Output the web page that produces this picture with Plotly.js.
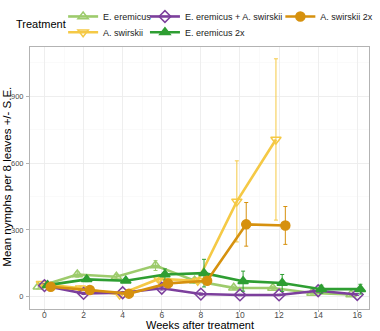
<!DOCTYPE html>
<html>
<head>
<meta charset="utf-8">
<script src="https://cdn.plot.ly/plotly-3.0.1.min.js"></script>
<style>html,body{margin:0;padding:0;background:#fff;}#chart{width:380px;height:331px;}</style>
</head>
<body>
<div id="chart"></div>
<script>
// ---- data ----
const weeks = [0, 2, 4, 6, 8, 10, 12, 14, 16];
const weeksShort = [0, 2, 4, 6, 8, 10, 12];

const eEremicusMean = [45, 100, 90, 140, 72, 40, 39, 17, 10];
const eEremicusSE   = [10, 12, 10, 22, 12, 8, 8, 5, 4];

const aSwirskiiMean = [58, 38, 10, 80, 72, 428, 706];
const aSwirskiiSE   = [10, 10, 8, 15, 12, 182, 362];

const eaMean = [50, 15, 18, 38, 12, 8, 8, 27, 10];
const eaSE   = [8, 5, 5, 8, 5, 3, 3, 6, 4];

const eEremicus2xMean = [52, 78, 72, 100, 106, 70, 62, 34, 34];
const eEremicus2xSE   = [10, 10, 8, 25, 62, 45, 38, 18, 22];

const aSwirskii2xMean = [45, 30, 14, 60, 72, 325, 320];
const aSwirskii2xSE   = [8, 6, 5, 12, 12, 98, 85];

const xTicks = [0, 2, 4, 6, 8, 10, 12, 14, 16];
const yTicks = [0, 300, 600, 900];

const names = ["E. eremicus", "A. swirskii", "E. eremicus + A. swirskii", "E. eremicus 2x", "A. swirskii 2x"];
const xTitle = "Weeks after treatment";
const yTitle = "Mean nymphs per 8 leaves +/- S.E.";
const legendTitle = "Treatment";

// ---- styling ----
const colors = ["#9DCB6C", "#F5C945", "#7C3F9C", "#2E9E32", "#D6910E"];
const symbols = ["triangle-up-open", "triangle-down-open", "diamond-open", "triangle-up", "circle"];
const dodge = [-0.32, -0.16, 0, 0.16, 0.32];
const legendIds = ["legend", "legend4", "legend2", "legend5", "legend3"];

const xs = [weeks, weeksShort, weeks, weeks, weeksShort];
const ys = [eEremicusMean, aSwirskiiMean, eaMean, eEremicus2xMean, aSwirskii2xMean];
const es = [eEremicusSE, aSwirskiiSE, eaSE, eEremicus2xSE, aSwirskii2xSE];

const traces = names.map((n, i) => ({
  type: "scatter",
  mode: "lines+markers",
  name: n,
  legend: legendIds[i],
  x: xs[i].map(w => w + dodge[i]),
  y: ys[i],
  error_y: {type: "data", array: es[i], visible: true, color: colors[i], thickness: 1, width: 2},
  line: {color: colors[i], width: 2.6},
  marker: {symbol: symbols[i], size: 9, color: colors[i], line: {color: colors[i], width: 1.5}},
  cliponaxis: false
}));

const L = 30, R = 2, T = 43, B = 22, W = 380, H = 331;
const pw = W - L - R, ph = H - T - B;
const px2x = p => (p - L) / pw;
const py2y = p => 1 + (T - p) / ph;

function leg(xpx, ypx) {
  return {x: px2x(xpx), y: py2y(ypx), xref: "paper", yref: "paper", xanchor: "left", yanchor: "middle",
          orientation: "h", font: {size: 9, color: "#1a1a1a", family: "Liberation Sans, Arial, sans-serif"},
          bgcolor: "rgba(0,0,0,0)", borderwidth: 0, itemwidth: 30, itemclick: false, itemdoubleclick: false};
}

const gridMajor = "#EBEBEB", gridMinor = "#F5F5F5";

const layout = {
  width: W, height: H,
  margin: {l: L, r: R, t: T, b: B, pad: 0},
  paper_bgcolor: "#fff", plot_bgcolor: "#fff",
  font: {family: "Liberation Sans, Arial, sans-serif", color: "#000"},
  showlegend: true,
  legend: leg(64, 12),
  legend2: leg(148, 12),
  legend3: leg(287, 12),
  legend4: leg(64, 28),
  legend5: leg(148, 28),
  annotations: [
    {text: legendTitle, x: px2x(69), y: py2y(20), xref: "paper", yref: "paper",
     xanchor: "right", yanchor: "middle", showarrow: false, font: {size: 11, color: "#000"}},
    {text: xTitle, x: 0.5, y: py2y(325), xref: "paper", yref: "paper",
     xanchor: "center", yanchor: "middle", showarrow: false, font: {size: 11, color: "#000"}},
    {text: yTitle, textangle: -90, x: px2x(6), y: py2y(175), xref: "paper", yref: "paper",
     xanchor: "center", yanchor: "middle", showarrow: false, font: {size: 11.5, color: "#000"}}
  ],
  xaxis: {
    range: [-0.74, 16.6], tickvals: xTicks, ticktext: xTicks.map(String),
    showgrid: true, gridcolor: gridMajor, gridwidth: 0.8,
    minor: {dtick: 1, tick0: 1, showgrid: true, gridcolor: gridMinor, gridwidth: 0.5, ticks: ""},
    zeroline: false, showline: true, mirror: true, linecolor: "#B3B3B3", linewidth: 1,
    ticks: "outside", ticklen: 2, tickcolor: "#B3B3B3", tickwidth: 1,
    ticklabelstandoff: -4,
    tickfont: {size: 8.5, color: "#4D4D4D"},
    automargin: false, fixedrange: true
  },
  yaxis: {
    range: [-55, 1121], tickvals: yTicks, ticktext: yTicks.map(String),
    showgrid: true, gridcolor: gridMajor, gridwidth: 0.8,
    minor: {dtick: 150, tick0: 150, showgrid: true, gridcolor: gridMinor, gridwidth: 0.5, ticks: ""},
    zeroline: false, showline: true, mirror: true, linecolor: "#B3B3B3", linewidth: 1,
    ticks: "outside", ticklen: 3, tickcolor: "#B3B3B3", tickwidth: 1,
    ticklabelstandoff: 1,
    tickfont: {size: 7.5, color: "#4D4D4D"},
    automargin: false, fixedrange: true
  }
};

Plotly.newPlot("chart", traces, layout, {displayModeBar: false, staticPlot: true});
</script>
</body>
</html>
